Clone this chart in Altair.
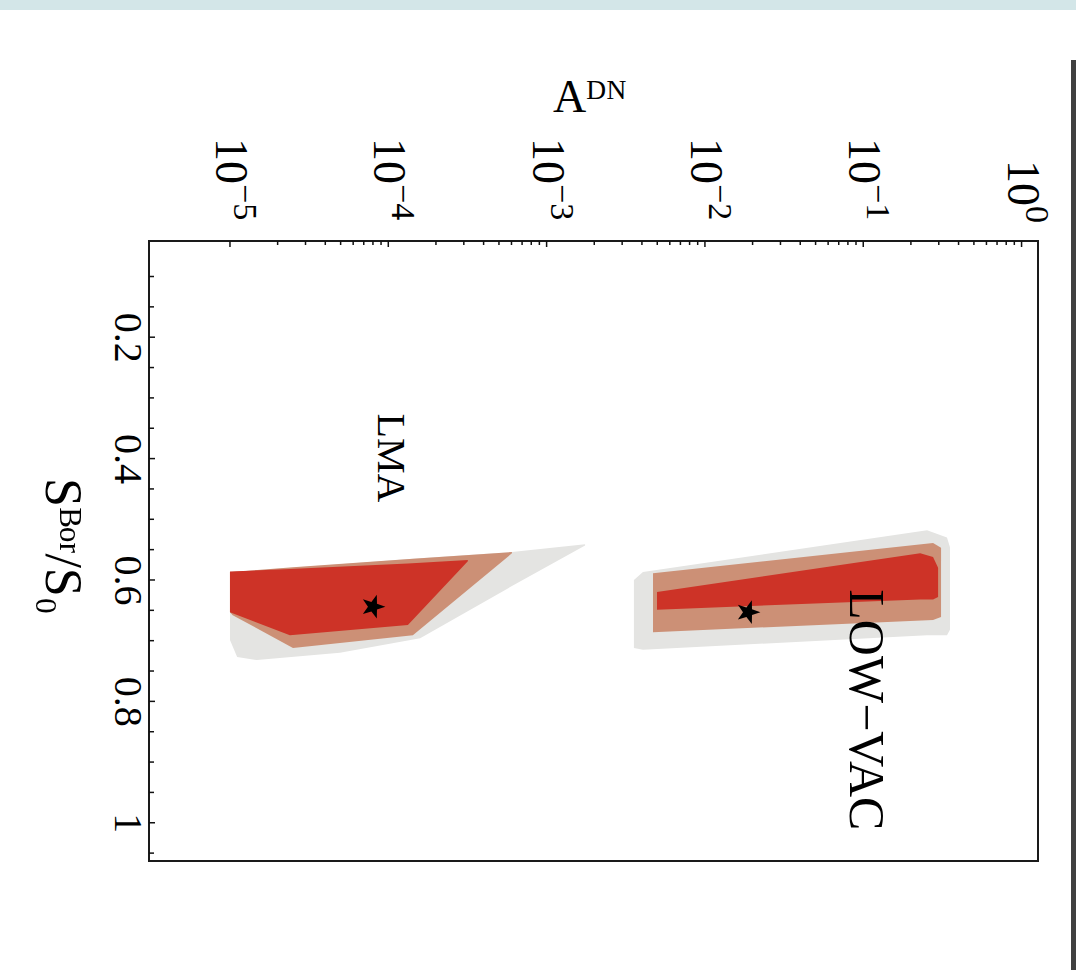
import altair as alt
import pandas as pd

# ---------------- data ----------------
# A^DN (log axis) tick values and their exponent labels
A_TICK_MAJOR = [1e-5, 1e-4, 1e-3, 1e-2, 1e-1, 1.0]
A_TICK_EXP = ["\u22125", "\u22124", "\u22123", "\u22122", "\u22121", "0"]
A_TICK_MINOR = [2e-5, 3e-5, 4e-5, 5e-5, 6e-5, 7e-5, 8e-5, 9e-5,
                2e-4, 3e-4, 4e-4, 5e-4, 6e-4, 7e-4, 8e-4, 9e-4,
                2e-3, 3e-3, 4e-3, 5e-3, 6e-3, 7e-3, 8e-3, 9e-3,
                2e-2, 3e-2, 4e-2, 5e-2, 6e-2, 7e-2, 8e-2, 9e-2,
                0.2, 0.3, 0.4, 0.5, 0.6, 0.7, 0.8, 0.9]
# S^Bor/S0 tick values
S_TICK_MAJOR = [0.2, 0.4, 0.6, 0.8, 1.0]
S_TICK_MINOR = [0.1, 0.15, 0.25, 0.3, 0.35, 0.45, 0.5, 0.55, 0.65, 0.7,
                0.75, 0.85, 0.9, 0.95, 1.05]

# LMA region: A values, lower S edge, upper S edge
LMA_GRAY_A = [1.0e-5, 1.11e-5, 1.48e-5, 4.95e-5, 1.59e-4, 6.04e-4, 1.75e-3]
LMA_GRAY_LO = [0.587, 0.586, 0.584, 0.574, 0.564, 0.554, 0.541]
LMA_GRAY_HI = [0.699, 0.727, 0.732, 0.720, 0.696, 0.610, 0.543]
LMA_TAN_A = [1.0e-5, 1.04e-5, 2.50e-5, 1.43e-4, 6.04e-4]
LMA_TAN_LO = [0.587, 0.587, 0.579, 0.565, 0.554]
LMA_TAN_HI = [0.653, 0.658, 0.712, 0.691, 0.556]
LMA_RED_A = [1.0e-5, 2.39e-5, 1.33e-4, 3.18e-4]
LMA_RED_LO = [0.586, 0.582, 0.573, 0.567]
LMA_RED_HI = [0.653, 0.691, 0.674, 0.569]

# LOW-VAC region
LOWVAC_GRAY_A = [3.56e-3, 4.06e-3, 0.253, 0.338, 0.353]
LOWVAC_GRAY_LO = [0.600, 0.587, 0.518, 0.530, 0.546]
LOWVAC_GRAY_HI = [0.712, 0.715, 0.691, 0.691, 0.682]
LOWVAC_TAN_A = [4.70e-3, 0.276, 0.310]
LOWVAC_TAN_LO = [0.589, 0.539, 0.547]
LOWVAC_TAN_HI = [0.686, 0.666, 0.661]
LOWVAC_RED_A = [4.98e-3, 0.229, 0.276, 0.297]
LOWVAC_RED_LO = [0.620, 0.556, 0.562, 0.580]
LOWVAC_RED_HI = [0.649, 0.632, 0.632, 0.628]

# best-fit points (stars)
STAR_A = [8.0e-5, 0.0187]
STAR_S = [0.644, 0.653]

# region labels
LABEL_TEXT = ["LMA", "LOW\u2212VAC"]
LABEL_A = [1.03e-4, 0.1026]
LABEL_S = [0.399, 0.814]
LABEL_SIZE = [40, 50]

# ---------------- styling ----------------
FONT = "Liberation Serif"
GRAY = "#E4E4E2"
TAN = "#CC9076"
RED = "#CD3327"
STAR_PATH = ("M0,-1 L0.235,-0.324 L0.951,-0.309 L0.380,0.124 L0.588,0.809 "
             "L0,0.4 L-0.588,0.809 L-0.380,0.124 L-0.951,-0.309 L-0.235,-0.324 Z")

W, H = 889, 620
PAD = {"left": 149, "top": 241, "right": 38, "bottom": 109}


def region_df(name, a, lo, hi):
    return pd.DataFrame({"region": name, "A": a, "S": lo, "S2": hi})


gray_df = pd.concat([region_df("LMA", LMA_GRAY_A, LMA_GRAY_LO, LMA_GRAY_HI),
                     region_df("LOWVAC", LOWVAC_GRAY_A, LOWVAC_GRAY_LO, LOWVAC_GRAY_HI)])
tan_df = pd.concat([region_df("LMA", LMA_TAN_A, LMA_TAN_LO, LMA_TAN_HI),
                    region_df("LOWVAC", LOWVAC_TAN_A, LOWVAC_TAN_LO, LOWVAC_TAN_HI)])
red_df = pd.concat([region_df("LMA", LMA_RED_A, LMA_RED_LO, LMA_RED_HI),
                    region_df("LOWVAC", LOWVAC_RED_A, LOWVAC_RED_LO, LOWVAC_RED_HI)])
star_df = pd.DataFrame({"A": STAR_A, "S": STAR_S})
label_df = pd.DataFrame({"A": LABEL_A, "S": LABEL_S, "label": LABEL_TEXT, "size": LABEL_SIZE})
a_major_df = pd.DataFrame({"A": A_TICK_MAJOR, "exp": A_TICK_EXP})
a_minor_df = pd.DataFrame({"A": A_TICK_MINOR})
s_major_df = pd.DataFrame({"S": S_TICK_MAJOR})
s_minor_df = pd.DataFrame({"S": S_TICK_MINOR})

x_axis = alt.Axis(
    orient="top", values=A_TICK_MAJOR, labels=False,
    ticks=False, tickSize=0, domain=False, grid=False,
    title="A\u1d30\u1d3a", titleFont=FONT, titleFontSize=46, titleFontWeight="normal",
    titleColor="black", titleAngle=0, titleAlign="center", titleBaseline="alphabetic",
    titleX=W / 2 - 4, titleY=-130,
)
y_axis = alt.Axis(
    orient="left", values=S_TICK_MAJOR, format=".1~f",
    ticks=False, tickSize=0, domain=False, grid=False,
    labelAngle=90, labelAlign="center", labelBaseline="top", labelPadding=3,
    labelFont=FONT, labelFontSize=40, labelColor="black", labelFlush=False, labelOverlap=False,
    title="S\u1d2e\u1d52\u02b3/S\u2080", titleFont=FONT, titleFontSize=52, titleFontWeight="normal",
    titleColor="black", titleAngle=90, titleAlign="center", titleBaseline="alphabetic",
    titleX=-104, titleY=H / 2 - 5,
)

x_scale = alt.Scale(type="log", domain=[3.08e-6, 1.27], nice=False)
y_scale = alt.Scale(domain=[0.0415, 1.063], reverse=True, nice=False, zero=False)
X = alt.X("A:Q", scale=x_scale, axis=x_axis)
Y = alt.Y("S:Q", scale=y_scale, axis=y_axis)


def area_layer(df, color):
    return alt.Chart(df).mark_area(color=color, opacity=1, interpolate="linear").encode(
        x=X, y=Y, y2="S2:Q", detail="region:N")


gray = area_layer(gray_df, GRAY)
tan = area_layer(tan_df, TAN)
red = area_layer(red_df, RED)

stars = alt.Chart(star_df).mark_point(
    shape=STAR_PATH, filled=True, color="black", opacity=1, size=620, angle=90
).encode(x=X, y=Y)

labels = alt.Chart(label_df).mark_text(
    angle=90, font=FONT, align="center", baseline="middle", color="black"
).encode(x=X, y=Y, text="label:N", size=alt.Size("size:Q", scale=None, legend=None))

# top tick labels "10" with a superscript exponent, rotated like the figure
neg_df = a_major_df[a_major_df["exp"] != "0"]
zero_df = a_major_df[a_major_df["exp"] == "0"]
base_neg = alt.Chart(neg_df).mark_text(
    angle=90, font=FONT, fontSize=46, align="left", baseline="middle", color="black"
).encode(x=X, y=alt.value(-103), text=alt.value("10"))
exp_neg = alt.Chart(neg_df).mark_text(
    angle=90, font=FONT, fontSize=34, align="left", baseline="middle", color="black", dy=-14
).encode(x=X, y=alt.value(-57), text="exp:N")
base_zero = alt.Chart(zero_df).mark_text(
    angle=90, font=FONT, fontSize=46, align="left", baseline="middle", color="black"
).encode(x=X, y=alt.value(-81), text=alt.value("10"))
exp_zero = alt.Chart(zero_df).mark_text(
    angle=90, font=FONT, fontSize=34, align="left", baseline="middle", color="black", dy=-14
).encode(x=X, y=alt.value(-35), text="exp:N")

a_major = alt.Chart(a_major_df).mark_rule(color="#111", strokeWidth=1.5).encode(
    x=X, y=alt.value(0), y2=alt.value(6))
a_minor = alt.Chart(a_minor_df).mark_rule(color="#111", strokeWidth=1.5).encode(
    x=X, y=alt.value(0), y2=alt.value(4))
s_major = alt.Chart(s_major_df).mark_rule(color="#111", strokeWidth=1.5).encode(
    y=Y, x=alt.value(0), x2=alt.value(6))
s_minor = alt.Chart(s_minor_df).mark_rule(color="#111", strokeWidth=1.5).encode(
    y=Y, x=alt.value(0), x2=alt.value(5))

# page border of the scanned figure (decoration only)
deco_df = pd.DataFrame({"k": [0]})
top_strip = alt.Chart(deco_df).mark_rect(color="#D3E6E8").encode(
    x=alt.value(-PAD["left"]), x2=alt.value(W + PAD["right"]),
    y=alt.value(-PAD["top"]), y2=alt.value(-PAD["top"] + 10))
right_bar = alt.Chart(deco_df).mark_rect(color="#404040").encode(
    x=alt.value(W + PAD["right"] - 5), x2=alt.value(W + PAD["right"]),
    y=alt.value(-PAD["top"] + 60), y2=alt.value(H + PAD["bottom"]))

chart = alt.layer(
    gray, tan, red, stars, labels, base_neg, exp_neg, base_zero, exp_zero,
    a_major, a_minor, s_major, s_minor, top_strip, right_bar
).properties(
    width=W, height=H,
    autosize=alt.AutoSizeParams(type="none"),
    padding=PAD,
    background="white",
).configure_view(stroke="#1a1a1a", strokeWidth=2)

chart.save("out.html", embed_options={"renderer": "svg", "actions": False})
